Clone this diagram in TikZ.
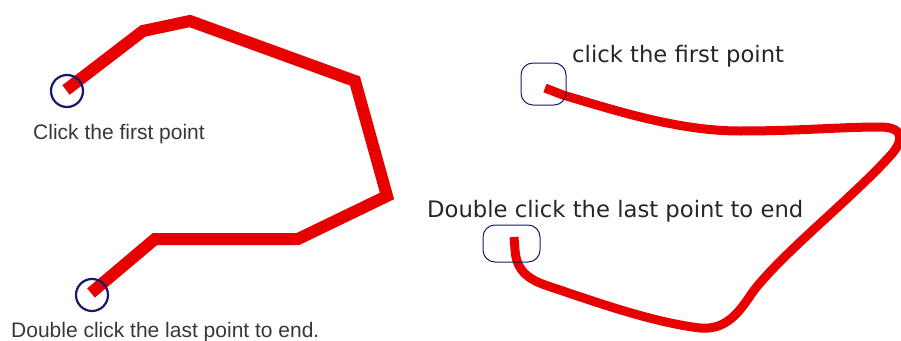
\documentclass[tikz,border=0pt]{standalone}
\usepackage{fontspec}
\setmainfont{Liberation Sans}
\newfontfamily\dejavu{DejaVu Sans}
\usepackage{xcolor}
\usepackage{tikz}
\definecolor{strokered}{RGB}{232,0,0}
\definecolor{marknavy}{RGB}{25,25,105}
\definecolor{labelgray}{RGB}{55,55,55}

\begin{document}
\begin{tikzpicture}[x=1pt,y=-1pt,line join=miter,
  polyline/.style={strokered,line width=12pt,line cap=butt},
  freehand/.style={strokered,line width=9pt,line cap=butt},
  clickring/.style={marknavy,line width=2.2pt},
  clickbox/.style={marknavy,line width=1pt,rounded corners=12pt},
  leftlabel/.style={labelgray,anchor=base west,inner sep=0pt,font=\fontsize{21}{25}\selectfont},
  rightlabel/.style={black!85,anchor=base west,inner sep=0pt,font=\dejavu\fontsize{22.7}{27}\selectfont}]
  \useasboundingbox (0,0) rectangle (901,340);
  \coordinate (LA) at (66,90);
  \coordinate (L1) at (143,31);
  \coordinate (L2) at (190,21);
  \coordinate (L3) at (355,81);
  \coordinate (L4) at (387,196);
  \coordinate (L5) at (298,239);
  \coordinate (L6) at (155,239);
  \coordinate (LZ) at (91,293);
  \draw[polyline] (LA) -- (L1) -- (L2) -- (L3) -- (L4) -- (L5) -- (L6) -- (LZ);
  \draw[clickring] (67,91) circle (16);
  \draw[clickring] (92,295) circle (16);
  \node[leftlabel] (lfirst) at (33,139) {Click the first point};
  \node[leftlabel] (llast) at (11,337) {Double click the last point to end.};
  \coordinate (RA) at (545,88);
  \coordinate (RZ) at (514,237);
  \draw[freehand] (RA) -- (563,95)
    .. controls (620,112) and (680,131) .. (740,131)
    .. controls (800,131) and (840,127) .. (880,127)
    .. controls (906,127) and (903,142) .. (890,156)
    .. controls (850,200) and (780,255) .. (752,293)
    .. controls (737,316) and (724,330) .. (700,328)
    .. controls (650,322) and (590,300) .. (545,285)
    .. controls (522,277) and (516,265) .. (515,250) -- (RZ);
  \draw[clickbox] (521,63) rectangle (566,105);
  \draw[clickbox] (483,225) rectangle (540,262);
  \node[rightlabel] (rfirst) at (572,62) {click the first point};
  \node[rightlabel] (rlast) at (427,217) {Double click the last point to end};
\end{tikzpicture}
\end{document}
